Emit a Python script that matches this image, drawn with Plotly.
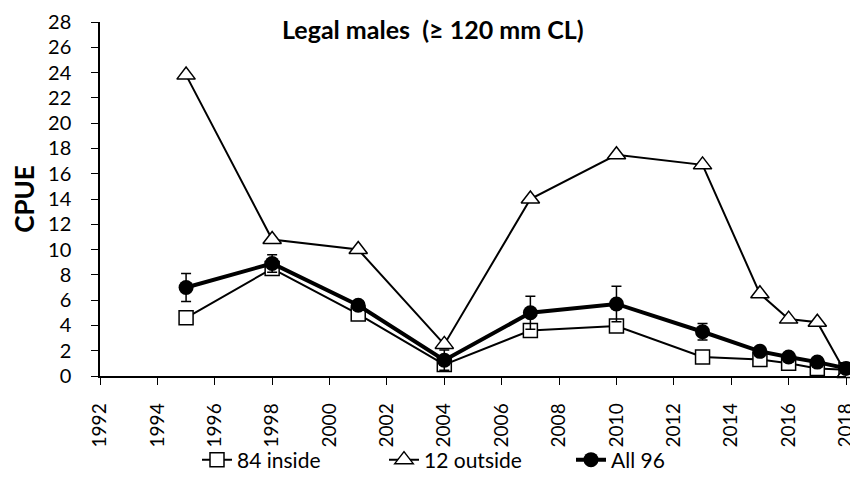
import plotly.graph_objects as go

# survey years and CPUE values
years = [1995, 1998, 2001, 2004, 2007, 2010, 2013, 2015, 2016, 2017, 2018]
inside_84 = [4.6, 8.5, 4.9, 0.9, 3.6, 3.95, 1.5, 1.3, 1.0, 0.6, 0.5]
outside_12 = [23.8, 10.8, 10.0, 2.5, 14.0, 17.5, 16.7, 6.5, 4.5, 4.25, 0.2]
all_96 = [7.0, 8.9, 5.6, 1.25, 5.0, 5.7, 3.5, 1.95, 1.5, 1.1, 0.6]
all_96_err = [1.1, 0.7, 0.3, 0.8, 1.3, 1.4, 0.65, 0.2, 0.2, 0.2, 0.1]

font_family = "Lato, 'Open Sans', sans-serif"

# the page body has an 8px margin, so the figure is drawn 8px smaller
W, H = 850, 473
L, R, T, B = 92, 12, 14, 105

fig = go.Figure()

fig.add_trace(go.Scatter(
    x=years, y=inside_84, name="84 inside", mode="lines+markers",
    line=dict(color="black", width=2),
    marker=dict(symbol="square", size=14, color="white",
                line=dict(color="black", width=1.5)),
    cliponaxis=False))

fig.add_trace(go.Scatter(
    x=years, y=outside_12, name="12 outside", mode="lines+markers",
    line=dict(color="black", width=2),
    marker=dict(symbol="triangle-up", size=16, color="white",
                line=dict(color="black", width=1.5)),
    cliponaxis=False))

fig.add_trace(go.Scatter(
    x=years, y=all_96, name="All 96", mode="lines+markers",
    line=dict(color="black", width=4),
    marker=dict(symbol="circle", size=15, color="black"),
    error_y=dict(type="data", array=all_96_err, visible=True,
                 color="black", thickness=1.5, width=5),
    cliponaxis=False))

pw = W - L - R
ph = H - T - B

fig.update_layout(
    width=W, height=H,
    margin=dict(l=L, r=R, t=T, b=B),
    paper_bgcolor="white", plot_bgcolor="white",
    font=dict(family=font_family, size=20, color="black"),
    showlegend=True,
    legend=dict(orientation="h", x=189 / W, xanchor="left", xref="container",
                y=1 - 452 / H, yanchor="middle", yref="container",
                bgcolor="rgba(0,0,0,0)",
                font=dict(size=21), tracegroupgap=0,
                entrywidth=142, entrywidthmode="pixels"),
    annotations=[dict(text="<b>Legal males  (≥ 120 mm CL)</b>",
                      x=(425 - L) / pw, y=1 - (21 - T) / ph,
                      xref="paper", yref="paper", xanchor="center",
                      yanchor="middle", showarrow=False, font=dict(size=25))],
)

fig.update_xaxes(
    range=[1992, 2018], tickmode="linear", tick0=1992, dtick=2,
    tickangle=-90, showgrid=False, zeroline=False, automargin=False,
    showline=True, linecolor="black", linewidth=1.5,
    ticks="outside", ticklen=7, tickcolor="black", tickwidth=1,
    ticklabelstandoff=11, ticklabeloverflow="allow",
    tickfont=dict(size=19),
)
fig.update_yaxes(
    range=[0, 28], tickmode="linear", tick0=0, dtick=2,
    showgrid=False, zeroline=False, automargin=False,
    showline=True, linecolor="black", linewidth=1.5,
    ticks="outside", ticklen=7, tickcolor="black", tickwidth=1,
    ticklabelstandoff=16, ticklabeloverflow="allow",
    tickfont=dict(size=20),
    title=dict(text="<b>CPUE</b>", standoff=8, font=dict(size=26)),
)

fig.write_html("out.html")
